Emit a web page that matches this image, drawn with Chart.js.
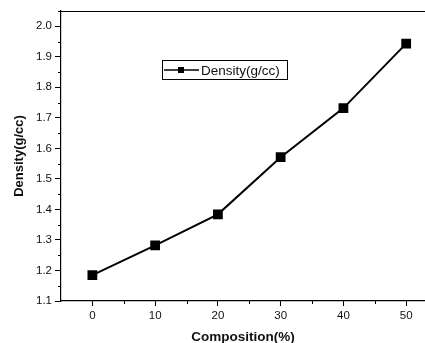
<!DOCTYPE html>
<html>
<head>
<meta charset="utf-8">
<script src="https://cdn.jsdelivr.net/npm/chart.js@4/dist/chart.umd.min.js"></script>
<style>
  html, body { margin: 0; padding: 0; background: #fff; }
  #wrap { width: 425px; height: 343px; }
</style>
</head>
<body>
<div id="wrap"><canvas id="myChart"></canvas></div>
<script>
const composition = [0, 10, 20, 30, 40, 50];
const density = [1.185, 1.282, 1.384, 1.571, 1.732, 1.943];
const seriesLabel = 'Density(g/cc)';
const xTicks = [0, 10, 20, 30, 40, 50];
const xMinor = [5, 15, 25, 35, 45];
const yMinor = [1.15, 1.25, 1.35, 1.45, 1.55, 1.65, 1.75, 1.85, 1.95, 2.05];

const fontFamily = '"Liberation Sans", Arial, sans-serif';

// minor ticks, top frame line and the boxed legend inside the plot
const extras = {
    id: 'extras',
    afterDraw(chart) {
        const ctx = chart.ctx;
        const area = chart.chartArea;
        const x = chart.scales.x;
        const y = chart.scales.y;
        ctx.save();
        ctx.strokeStyle = '#000';
        ctx.lineWidth = 1;
        ctx.beginPath();
        xMinor.forEach(v => {
            const px = Math.round(x.getPixelForValue(v)) + 0.5;
            ctx.moveTo(px, area.bottom);
            ctx.lineTo(px, area.bottom + 3);
        });
        yMinor.forEach(v => {
            const py = Math.round(y.getPixelForValue(v)) + 0.5;
            ctx.moveTo(area.left, py);
            ctx.lineTo(area.left - 3, py);
        });
        ctx.moveTo(area.left, area.top + 0.5);
        ctx.lineTo(area.right, area.top + 0.5);
        ctx.stroke();

        // legend
        const bx = 162, by = 60, bw = 125, bh = 19;
        ctx.lineWidth = 1;
        ctx.strokeRect(bx + 0.5, by + 0.5, bw, bh);
        const cy = by + bh / 2 + 0.5;
        ctx.lineWidth = 1.6;
        ctx.beginPath();
        ctx.moveTo(bx + 2, cy);
        ctx.lineTo(bx + 37, cy);
        ctx.stroke();
        ctx.fillStyle = '#000';
        ctx.fillRect(bx + 16, cy - 3, 6, 6);
        ctx.font = '13.5px ' + fontFamily;
        ctx.textBaseline = 'middle';
        ctx.fillStyle = '#111';
        ctx.fillText(chart.data.datasets[0].label, bx + 39, cy + 1);
        ctx.restore();
    }
};

new Chart(document.getElementById('myChart').getContext('2d'), {
    type: 'line',
    data: {
        datasets: [
            {
                label: seriesLabel,
                data: composition.map((c, i) => ({ x: c, y: density[i] })),
                borderColor: '#000',
                backgroundColor: '#000',
                borderWidth: 2,
                pointStyle: 'rect',
                pointRadius: 5.5,
                pointHoverRadius: 5.5,
                tension: 0
            }
        ]
    },
    options: {
        responsive: true,
        maintainAspectRatio: false,
        animation: false,
        layout: { autoPadding: false, padding: { top: 11, right: 0, left: 0, bottom: 0 } },
        plugins: {
            legend: { display: false },
            tooltip: { enabled: false }
        },
        scales: {
            x: {
                type: 'linear',
                min: -5,
                max: 53,
                afterFit(scale) { scale.height = 42; },
                afterBuildTicks(scale) { scale.ticks = xTicks.map(v => ({ value: v })); },
                border: { display: true, color: '#000', width: 1.2 },
                grid: { drawOnChartArea: false, drawTicks: true, tickLength: 5, tickColor: '#000' },
                ticks: {
                    color: '#111',
                    padding: 3,
                    font: { family: fontFamily, size: 11.5 }
                },
                title: {
                    display: true,
                    text: 'Composition(%)',
                    color: '#111',
                    padding: { top: 0, bottom: -2 },
                    font: { family: fontFamily, size: 13.5, weight: 'bold' }
                }
            },
            y: {
                min: 1.1,
                max: 2.05,
                afterFit(scale) { scale.width = 61; },
                afterBuildTicks(scale) {
                    const t = [];
                    for (let i = 0; i <= 9; i++) t.push({ value: +(1.1 + i * 0.1).toFixed(1) });
                    scale.ticks = t;
                },
                border: { display: true, color: '#000', width: 1.2 },
                grid: { drawOnChartArea: false, drawTicks: true, tickLength: 6, tickColor: '#000' },
                ticks: {
                    color: '#111',
                    padding: 3,
                    font: { family: fontFamily, size: 11.5 },
                    callback: v => v.toFixed(1)
                },
                title: {
                    display: true,
                    text: 'Density(g/cc)',
                    color: '#111',
                    padding: { top: 12, bottom: 0 },
                    font: { family: fontFamily, size: 13, weight: 'bold' }
                }
            }
        }
    },
    plugins: [extras]
});
</script>
</body>
</html>
